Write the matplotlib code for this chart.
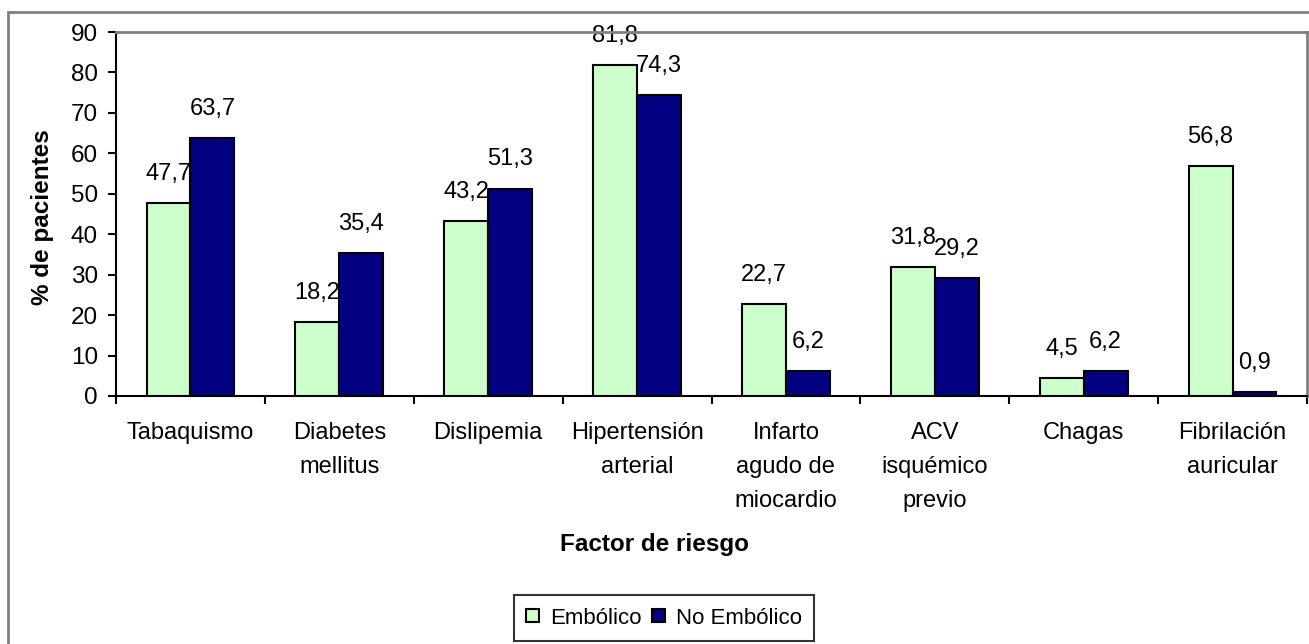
import numpy as np
import matplotlib
matplotlib.use("Agg")
from matplotlib import pyplot as plt
from matplotlib.patches import Rectangle

categories = ["Tabaquismo", "Diabetes\nmellitus", "Dislipemia", "Hipertensión\narterial",
              "Infarto\nagudo de\nmiocardio", "ACV\nisquémico\nprevio", "Chagas",
              "Fibrilación\nauricular"]
embolico = [47.7, 18.2, 43.2, 81.8, 22.7, 31.8, 4.5, 56.8]
no_embolico = [63.7, 35.4, 51.3, 74.3, 6.2, 29.2, 6.2, 0.9]
series_names = ["Embólico", "No Embólico"]
y_ticks = [0, 10, 20, 30, 40, 50, 60, 70, 80, 90]

plt.rcParams["font.family"] = ["Liberation Sans", "DejaVu Sans"]

W, H = 1309, 644
fig = plt.figure(figsize=(W / 100, H / 100), dpi=100)

# outer chart frame
fig.patches.append(Rectangle((8 / W, -0.05), 1.2, 1 - 12 / H + 0.05, transform=fig.transFigure,
                             fill=False, edgecolor="#808080", linewidth=2, zorder=0))

ax = fig.add_axes([116 / W, 1 - 396 / H, (1307 - 116) / W, (396 - 32) / H])

x = np.arange(len(categories))
bw = 0.295
bars1 = ax.bar(x - bw / 2, embolico, bw, color="#CCFFCC", edgecolor="black", linewidth=1.5,
               label=series_names[0], zorder=3)
bars2 = ax.bar(x + bw / 2, no_embolico, bw, color="#000080", edgecolor="black", linewidth=1.5,
               label=series_names[1], zorder=3)

for bars, vals in ((bars1, embolico), (bars2, no_embolico)):
    for b, v in zip(bars, vals):
        ax.annotate(f"{v:.1f}".replace(".", ","), (b.get_x() + b.get_width() / 2, v),
                    xytext=(0, 13), textcoords="offset points", ha="center", va="bottom",
                    fontsize=17, zorder=2)

ax.set_xlim(-0.5, len(categories) - 0.5)
ax.set_ylim(0, 90)
ax.set_yticks(y_ticks)
ax.set_yticklabels([str(t) for t in y_ticks], fontsize=17.5)
ax.tick_params(axis="y", direction="out", length=6, width=1.5, pad=7)

ax.set_xticks(np.arange(len(categories) + 1) - 0.5)
ax.set_xticklabels([])
ax.set_xticks(x, minor=True)
ax.set_xticklabels(categories, minor=True, fontsize=17, linespacing=1.7, va="top")
ax.tick_params(axis="x", which="major", direction="out", length=6, width=1.5)
ax.tick_params(axis="x", which="minor", length=0, pad=19)

for s in ("left", "bottom"):
    ax.spines[s].set_color("black")
    ax.spines[s].set_linewidth(1.5)
for s in ("top", "right"):
    ax.spines[s].set_color("#808080")
    ax.spines[s].set_linewidth(2)

fig.text(43 / W, 1 - 217 / H, "% de pacientes", rotation=90, ha="center", va="center",
         fontsize=17.5, fontweight="bold")
fig.text(654 / W, 1 - 545 / H, "Factor de riesgo", ha="center", va="center",
         fontsize=17.5, fontweight="bold")

leg = fig.legend(handles=[bars1, bars2], loc="center", bbox_to_anchor=(664 / W, 1 - 618 / H),
                 ncol=2, fontsize=16, frameon=True, fancybox=False, edgecolor="black",
                 handlelength=0.55, handleheight=0.55, handletextpad=0.5, columnspacing=0.5,
                 borderpad=0.55, borderaxespad=0)
leg.get_frame().set_linewidth(1.5)

fig.savefig("out.png", dpi=100)
